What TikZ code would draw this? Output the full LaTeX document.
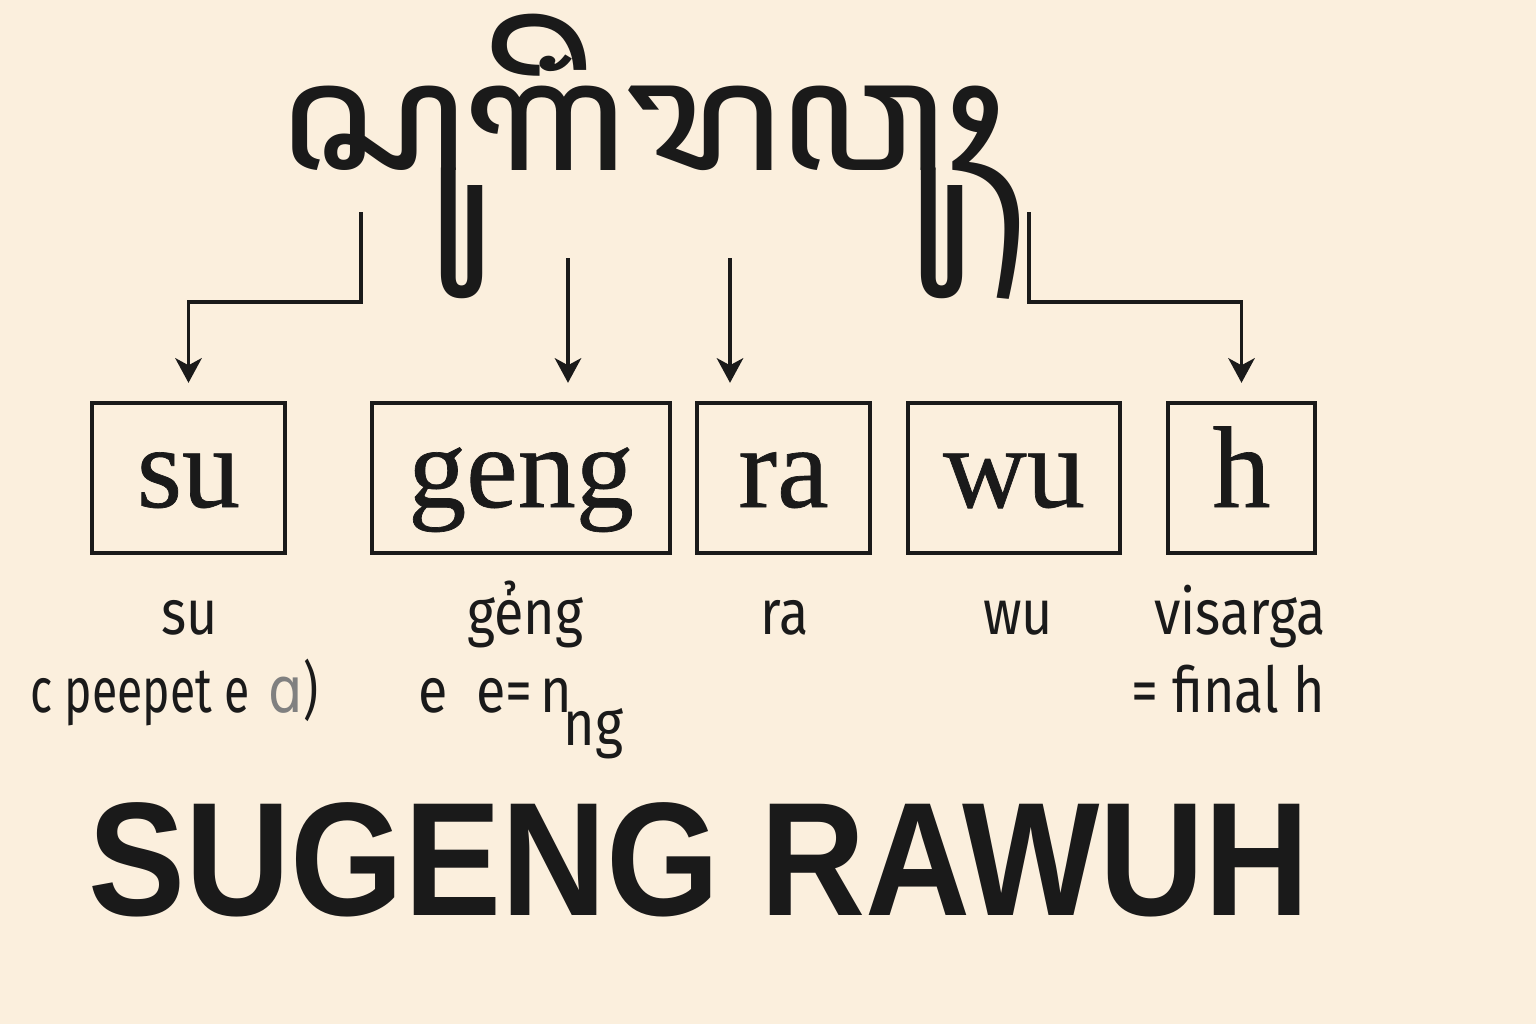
\documentclass[tikz,border=0pt]{standalone}
\usepackage{fontspec}
\usetikzlibrary{arrows.meta}
\setmainfont{Liberation Serif}
\newfontfamily\boxfont[FakeBold=0.6]{Liberation Serif}
\newfontfamily\labfont[FakeStretch=0.85]{Fira Sans}
\newfontfamily\titlefont[FakeStretch=0.9]{Liberation Sans}
\newfontfamily\dvfont{DejaVu Sans}
\IfFontExistsTF{Noto Sans Javanese}{\newfontfamily\jvfont[FakeStretch=1.1]{Noto Sans Javanese}\def\jvtext{ꦱꦸꦒꦼꦁꦫꦮꦸꦃ}}{\def\jvfont{\dvfont}\def\jvtext{NOFONT}}
\definecolor{bg}{HTML}{FBEFDD}
\definecolor{ink}{HTML}{1A1A1A}
\begin{document}
\begin{tikzpicture}[x=0.01cm,y=-0.01cm,
  box/.style={draw=ink,line width=1.2pt,rectangle,inner sep=0pt,minimum height=150*0.2845pt,
    text height=16.5pt,text depth=0pt,font=\boxfont\fontsize{33}{36}\selectfont,text=ink},
  lab/.style={font=\labfont\fontsize{18}{21}\selectfont,text=ink,inner sep=0pt},
  conn/.style={draw=ink,line width=1.1pt,-{Stealth[length=7pt,width=7.5pt,inset=2pt]},shorten >=18*0.2845pt}]
\fill[bg] (0,0) rectangle (1536,1024);
\useasboundingbox (0,0) rectangle (1536,1024);
% script
\node[anchor=base,inner sep=0pt,text=ink,font=\jvfont\fontsize{44}{50}\selectfont] (jv) at (642,170) {\jvtext};
% boxes
\node[box,minimum width=193*0.2845pt] (su) at (188.5,478) {su};
\node[box,minimum width=298*0.2845pt] (geng) at (521,478) {geng};
\node[box,minimum width=173*0.2845pt] (ra) at (783.5,478) {ra};
\node[box,minimum width=212*0.2845pt] (wu) at (1014,478) {wu};
\node[box,minimum width=147*0.2845pt] (h) at (1241.5,478) {h};
% connector starts
\coordinate (s1) at (361,212);
\coordinate (s2) at (568,258);
\coordinate (s3) at (730,258);
\coordinate (s4) at (1029,212);
\draw[conn] (s1) -- ++(0,90) -| (su.north);
\draw[conn] (s2) -- (s2 |- geng.north);
\draw[conn] (s3) -- (s3 |- ra.north);
\draw[conn] (s4) -- ++(0,90) -| (h.north);
% labels
\node[lab,anchor=base] (l1) at (190,634) {su};
\node[lab,anchor=base] (l2) at (525,634) {gẻng};
\node[lab,anchor=base] (l3) at (785,634) {ra};
\node[lab,anchor=base] (l4) at (1018,634) {wu};
\node[lab,anchor=base] (l5) at (1240,634) {visarga};
\node[lab,anchor=base west,xscale=0.86,transform shape] (m1) at (30,712) {c peepet e\hspace{0.35em}\textcolor{gray}{\dvfont ɑ})};
\node[lab,anchor=base west] (m2) at (418,712) {e\hspace{0.45em}e=\hspace{0.12em}n};
\node[lab,anchor=base west] (m3) at (563,745) {ng};
\node[lab,anchor=base east] (m5) at (1326,712) {= final h};
% title
\node[anchor=base west,inner sep=0pt,text=ink,font=\titlefont\bfseries\fontsize{46}{50}\selectfont] (title) at (88,915) {SUGENG RAWUH};
\end{tikzpicture}
\end{document}
